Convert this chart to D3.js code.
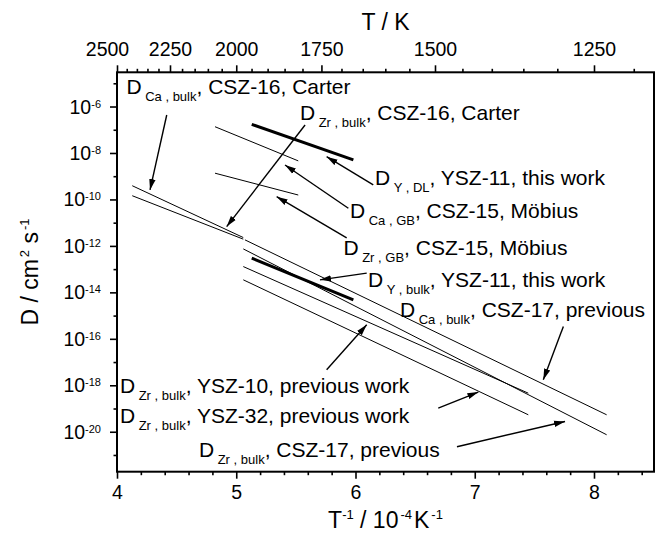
<!DOCTYPE html>
<html><head><meta charset="utf-8">
<script src="https://cdn.jsdelivr.net/npm/d3@7"></script>
<style>
body{margin:0;background:#fff}
svg{display:block}
text{font-family:"Liberation Sans",Arial,Helvetica,sans-serif;fill:#000}
</style>
</head><body>
<svg id="c" width="660" height="533"></svg>
<script>
// ---------- data ----------
const lineNames = [
  "D_Ca,bulk CSZ-16 Carter", "D_Zr,bulk CSZ-16 Carter",
  "D_Ca,bulk CSZ-17 previous", "D_Zr,bulk CSZ-17 previous",
  "D_Zr,bulk YSZ-10 previous work", "D_Zr,bulk YSZ-32 previous work",
  "D_Y,bulk YSZ-11 this work", "D_Y,DL YSZ-11 this work",
  "D_Ca,GB CSZ-15 Möbius", "D_Zr,GB CSZ-15 Möbius"];
// 1e4/T (1e-4 K^-1) at start and end of each line
const lineInvT = [[4.128,5.059],[4.128,5.059],[5.073,8.106],[5.059,8.106],[5.059,7.449],
                  [5.059,7.449],[5.130,5.982],[5.130,5.982],[4.822,5.520],[4.822,5.520]];
// log10(D / cm^2 s^-1) at start and end
const lineLogD = [[-9.41,-11.64],[-9.84,-11.71],[-11.74,-19.27],[-12.13,-20.13],[-12.89,-18.34],
                  [-13.46,-19.27],[-12.53,-14.32],[-6.77,-8.30],[-6.87,-8.34],[-8.87,-9.81]];

// annotation arrows: [1e4/T, log10 D] of tail and tip
const arrowTail = [[4.417,-6.366],[5.577,-6.796],[6.149,-9.376],[5.940,-10.378],[5.926,-11.656],
                   [6.094,-13.174],[7.743,-15.471],[5.758,-17.333],[6.694,-18.981],[6.851,-20.645]];
const arrowTip  = [[4.277,-9.591],[4.920,-11.170],[5.758,-8.159],[5.409,-8.516],[5.339,-9.880],
                   [5.702,-13.462],[7.575,-17.763],[6.094,-15.398],[7.030,-18.292],[7.757,-19.557]];

// annotation texts
const labelSub  = ["Ca , bulk","Zr , bulk","Y , DL","Ca , GB","Zr , GB","Y , bulk","Ca , bulk","Zr , bulk","Zr , bulk","Zr , bulk"];
const labelRest = [", CSZ-16, Carter",", CSZ-16, Carter",", YSZ-11, this work",", CSZ-15, Möbius",", CSZ-15, Möbius",
                   ", YSZ-11, this work",", CSZ-17, previous",", YSZ-10, previous work",", YSZ-32, previous work",", CSZ-17, previous"];

const xTicks = [4,5,6,7,8];
const tempTicks = [2500,2250,2000,1750,1500,1250];
const yTickExps = [-6,-8,-10,-12,-14,-16,-18,-20];

// ---------- layout / style ----------
const lineThick = [1,1,1,1,1,1,3,3,1,1];
const labelPos = [[126.5,94],[300,120],[375,185],[350,218],[343.5,255],[368,287],[400,317],[120,393],[120,423],[199,457]];

const svg = d3.select("#c");
const L=117, R=654, T=72.3, B=471.7;
const x = d3.scaleLinear().domain([4, 4+(R-L)/119.25]).range([L,R]);
const y = d3.scaleLog().domain([Math.pow(10,-21.72), Math.pow(10,-4.527)]).range([B,T]);
const FS = 21, SUB = 13;

// defs
svg.append("defs").append("marker")
  .attr("id","ah").attr("markerUnits","userSpaceOnUse")
  .attr("markerWidth",12).attr("markerHeight",8)
  .attr("refX",11).attr("refY",4).attr("orient","auto")
  .append("path").attr("d","M0,0.8 L11,4 L0,7.2 Z").attr("fill","#000");

// data lines
const g = svg.append("g");
lineNames.forEach((n,i)=>{
  g.append("line")
   .attr("x1",x(lineInvT[i][0])).attr("y1",y(Math.pow(10,lineLogD[i][0])))
   .attr("x2",x(lineInvT[i][1])).attr("y2",y(Math.pow(10,lineLogD[i][1])))
   .attr("stroke","#000").attr("stroke-width",lineThick[i]);
});

// arrows
arrowTail.forEach((t,i)=>{
  g.append("line")
   .attr("x1",x(t[0])).attr("y1",y(Math.pow(10,t[1])))
   .attr("x2",x(arrowTip[i][0])).attr("y2",y(Math.pow(10,arrowTip[i][1])))
   .attr("stroke","#000").attr("stroke-width",1.4).attr("marker-end","url(#ah)");
});

// labels
labelSub.forEach((s,i)=>{
  const t = svg.append("text").attr("x",labelPos[i][0]).attr("y",labelPos[i][1]).attr("font-size",FS);
  t.append("tspan").text("D");
  t.append("tspan").attr("dx",3.5).attr("dy",6.5).attr("font-size",SUB).text(s);
  t.append("tspan").attr("dy",-6.5).text(labelRest[i]);
});

// axes
const axG = svg.append("g");
// bottom
axG.append("g").attr("transform",`translate(0,${B})`)
  .call(d3.axisBottom(x).tickValues(xTicks).tickSize(7).tickPadding(6).tickFormat(d3.format("d")));
const bMinor = d3.range(4,8.51,0.2).filter(v=>Math.abs(v-Math.round(v))>1e-6);
axG.append("g").attr("transform",`translate(0,${B})`)
  .call(d3.axisBottom(x).tickValues(bMinor).tickSize(3.5).tickFormat(""));
// top
const topAx = axG.append("g").attr("transform",`translate(0,${T})`)
  .call(d3.axisTop(x).tickValues(tempTicks.map(t=>1e4/t)).tickSize(7).tickPadding(9)
        .tickFormat((d,i)=>tempTicks[i]));
const tMinor = d3.range(2450,1150,-50).filter(t=>!tempTicks.includes(t)).map(t=>1e4/t);
axG.append("g").attr("transform",`translate(0,${T})`)
  .call(d3.axisTop(x).tickValues(tMinor).tickSize(3.5).tickFormat(""));
// left
const yMajor = yTickExps.map(e=>Math.pow(10,e));
axG.append("g").attr("transform",`translate(${L},0)`)
  .call(d3.axisLeft(y).tickValues(yMajor).tickSize(7).tickFormat(""));
const yMinor = d3.range(-5,-22,-2).map(e=>Math.pow(10,e));
axG.append("g").attr("transform",`translate(${L},0)`)
  .call(d3.axisLeft(y).tickValues(yMinor).tickSize(3.5).tickFormat(""));
axG.selectAll(".domain").remove();
axG.selectAll(".tick line").attr("stroke","#000").attr("stroke-width",1.6);
axG.selectAll(".tick text").attr("font-size",19.5).attr("font-family","Liberation Sans, Arial, sans-serif").attr("fill","#000");
// first top label nudged left to avoid crowding (as in the original)
topAx.selectAll(".tick text").filter((d,i)=>i===0).attr("dx",-10);

// y tick labels with superscripts
yTickExps.forEach(e=>{
  const t = svg.append("text").attr("x",101).attr("y",y(Math.pow(10,e))+7)
    .attr("text-anchor","end").attr("font-size",19.5);
  t.append("tspan").text("10");
  t.append("tspan").attr("dy",-6).attr("font-size",11).text(String(e));
});

// frame
svg.append("rect").attr("x",L).attr("y",T).attr("width",R-L).attr("height",B-T)
  .attr("fill","none").attr("stroke","#000").attr("stroke-width",2);

// titles
svg.append("text").attr("x",(L+R)/2).attr("y",30).attr("text-anchor","middle").attr("font-size",23).text("T / K");

const bt = svg.append("text").attr("x",(L+R)/2).attr("y",528).attr("text-anchor","middle").attr("font-size",23);
bt.append("tspan").text("T");
bt.append("tspan").attr("dy",-9).attr("font-size",13).text("-1");
bt.append("tspan").attr("dy",9).text(" / 10");
bt.append("tspan").attr("dx",2).attr("dy",-9).attr("font-size",13).text("-4");
bt.append("tspan").attr("dx",2).attr("dy",9).text("K");
bt.append("tspan").attr("dx",2).attr("dy",-9).attr("font-size",13).text("-1");

const yt = svg.append("text").attr("transform",`translate(38,${(T+B)/2}) rotate(-90)`)
  .attr("text-anchor","middle").attr("font-size",23);
yt.append("tspan").text("D / cm");
yt.append("tspan").attr("dx",2).attr("dy",-9).attr("font-size",13).text("2");
yt.append("tspan").attr("dy",9).text(" s");
yt.append("tspan").attr("dx",2).attr("dy",-9).attr("font-size",13).text("-1");
</script>
</body></html>
